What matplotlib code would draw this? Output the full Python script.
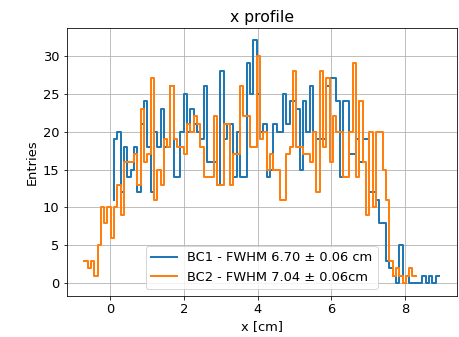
import numpy as np
import matplotlib.pyplot as plt

plt.rcParams["font.size"] = 13

# bin grid (cm)
bin_width = 0.09
bc1_start = 0.10
bc2_start = -0.71

# counts per bin
bc1_counts = [
    11, 19, 20, 12, 18, 14, 15, 18, 12, 21, 24, 18, 12, 20, 18, 23, 18, 18,
    26, 14, 14, 20, 25, 20, 23, 21, 20, 19, 26, 16, 16, 16, 13, 28, 19, 21,
    21, 14, 20, 14, 14, 29, 25, 32, 25, 20, 21, 14, 15, 21, 20, 20, 25, 21,
    24, 24, 23, 15, 24, 20, 26, 20, 19, 19, 19, 26, 27, 27, 24, 14, 24, 24,
    17, 17, 19, 16, 19, 19, 12, 12, 11, 8, 8, 3, 2, 1, 0, 5, 0, 1, 0, 0, 0,
    0, 1, 0, 1, 0, 1,
]
bc2_counts = [
    3, 3, 2, 3, 1, 5, 10, 8, 10, 6, 10, 13, 9, 16, 16, 16, 17, 13, 23, 16,
    17, 27, 11, 15, 13, 19, 18, 26, 19, 18, 18, 17, 21, 20, 22, 21, 18, 14,
    14, 14, 22, 13, 13, 21, 21, 13, 17, 17, 26, 22, 22, 18, 18, 30, 19, 20,
    15, 17, 15, 15, 11, 11, 17, 18, 28, 18, 18, 17, 17, 16, 20, 12, 28, 18,
    27, 16, 22, 20, 20, 14, 14, 20, 29, 14, 24, 16, 9, 20, 10, 20, 20, 15,
    11, 3, 1, 2, 1, 0, 1, 2, 1,
]

bc1_label = "BC1 - FWHM 6.70 ± 0.06 cm"
bc2_label = "BC2 - FWHM 7.04 ± 0.06cm"

bc1_x = bc1_start + bin_width * np.arange(len(bc1_counts))
bc2_x = bc2_start + bin_width * np.arange(len(bc2_counts))

fig, ax = plt.subplots(figsize=(459 / 72, 337 / 72), dpi=72)
fig.subplots_adjust(left=0.145, right=0.995, bottom=0.123, top=0.916)

ax.step(bc1_x, bc1_counts, color="tab:blue", linewidth=2, label=bc1_label)
ax.step(bc2_x, bc2_counts, color="tab:orange", linewidth=2, label=bc2_label)

ax.set_title("x profile")
ax.set_xlabel("x [cm]")
ax.set_ylabel("Entries")
ax.grid(True)
ax.legend(loc="lower center")

fig.savefig("out.png", dpi=72)
